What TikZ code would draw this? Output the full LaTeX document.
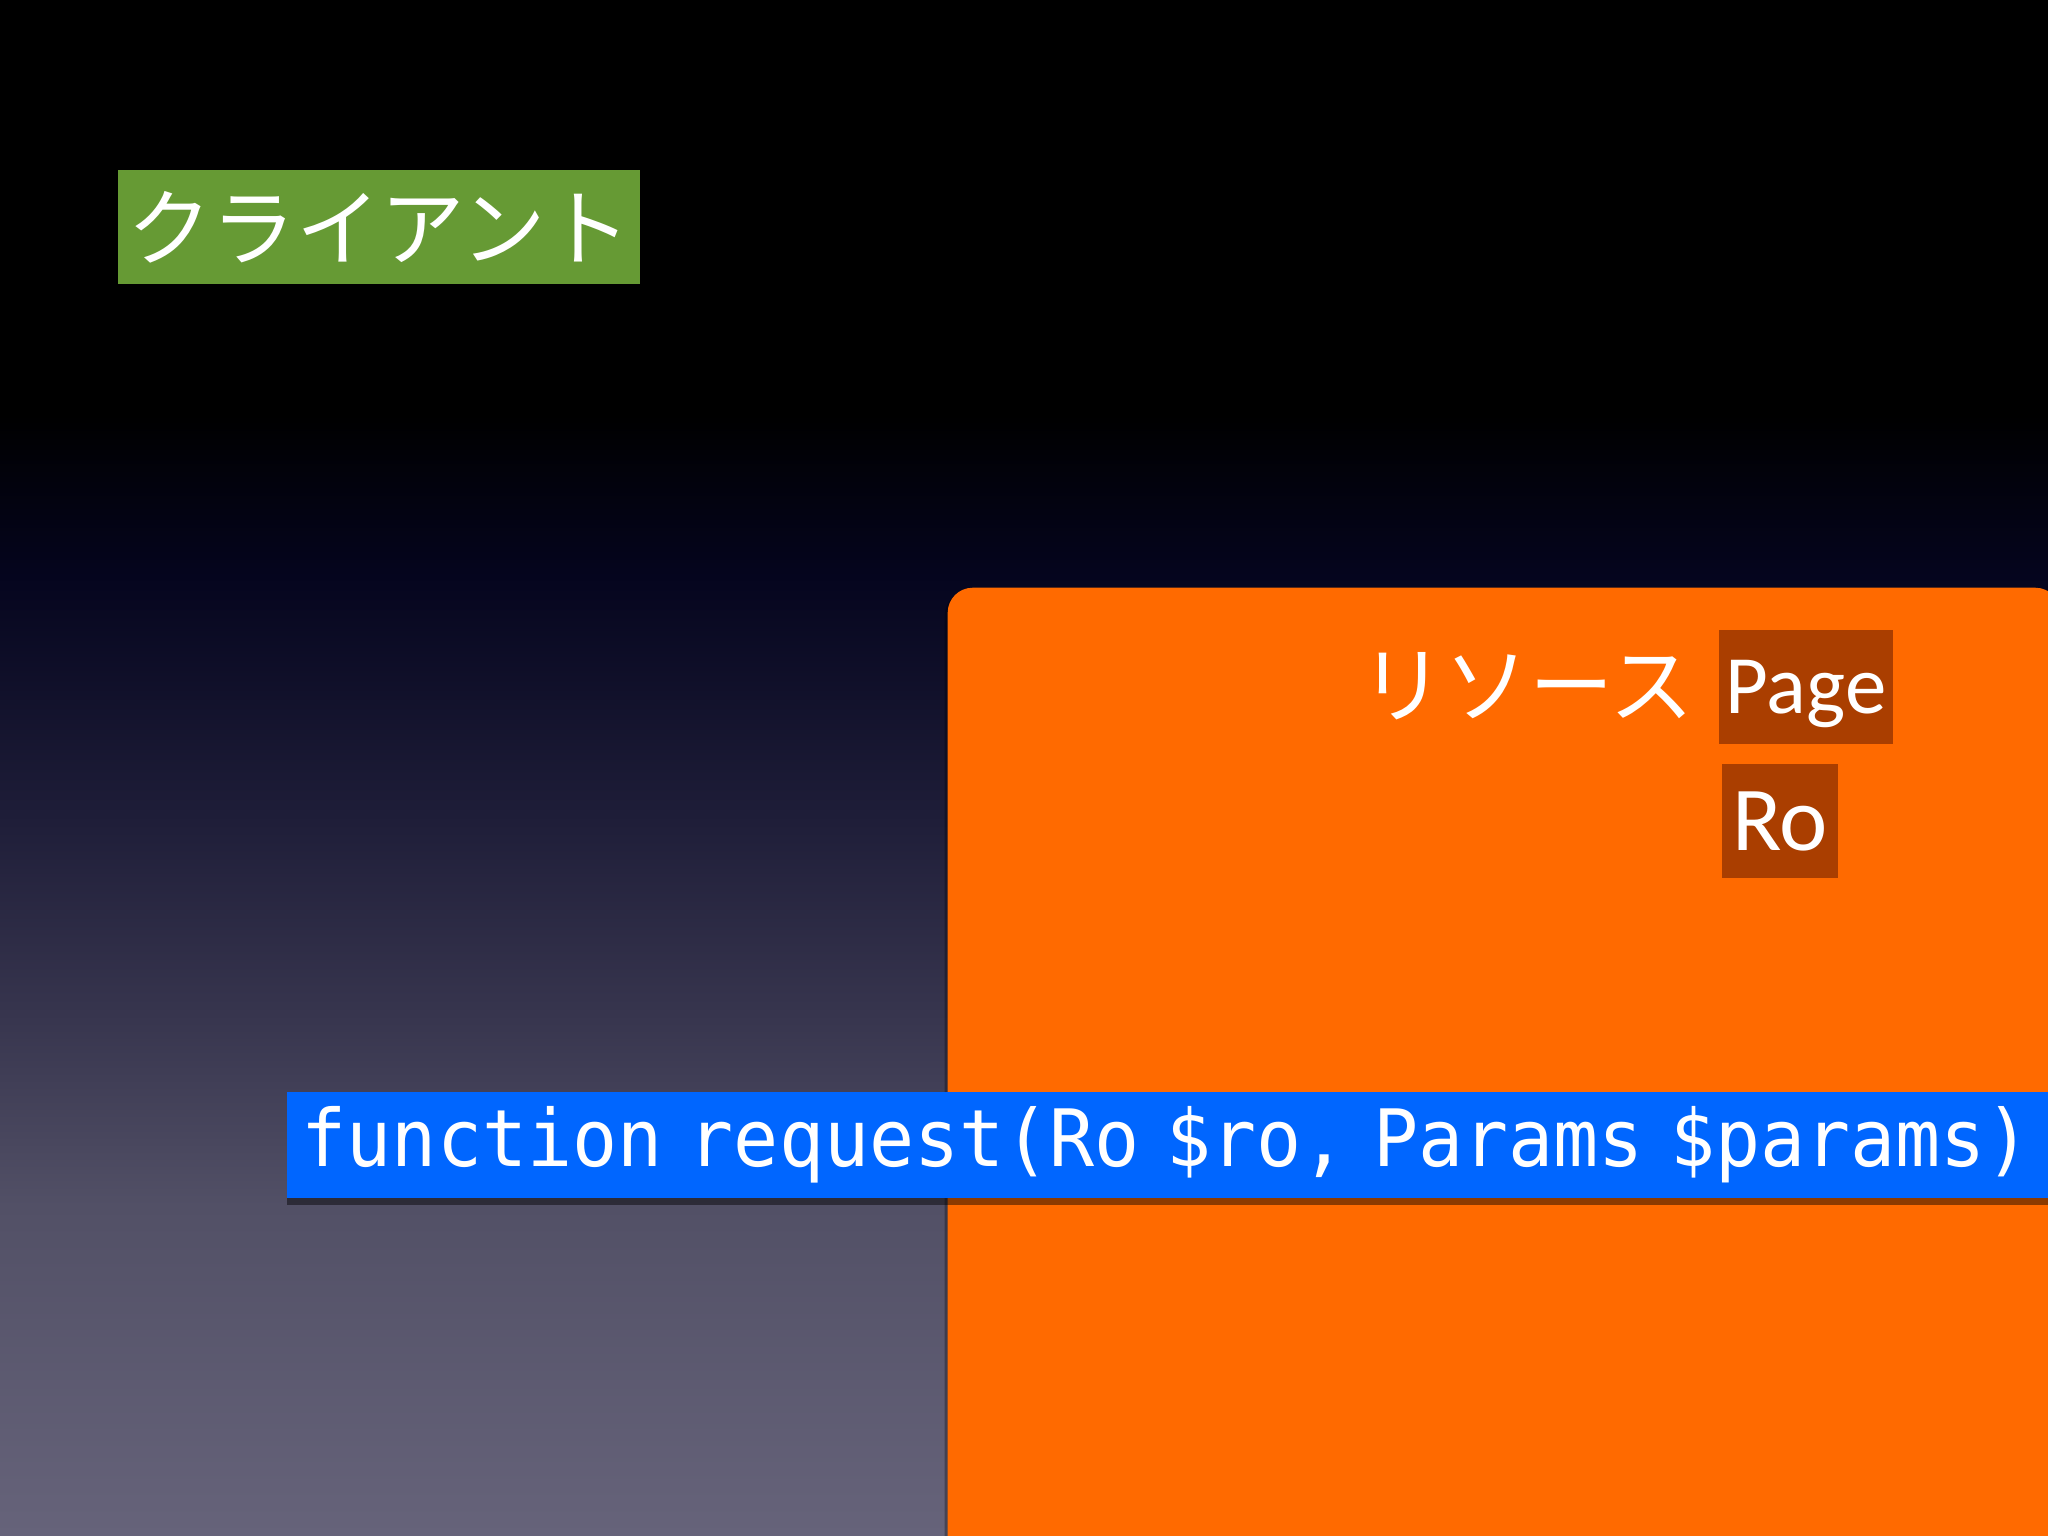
\documentclass[tikz,border=0pt]{standalone}
\usepackage{fontspec}
\setmainfont{Carlito}
\setmonofont{DejaVu Sans Mono}[FakeStretch=0.947]
\newfontfamily\jpfont{Noto Sans CJK JP}
\usetikzlibrary{shadows}

\definecolor{bgA}{RGB}{102,99,122}
\definecolor{bgB}{RGB}{82,80,102}
\definecolor{bgC}{RGB}{55,53,78}
\definecolor{bgD}{RGB}{30,29,56}
\definecolor{bgE}{RGB}{5,5,30}
\definecolor{clientgreen}{RGB}{102,154,52}
\definecolor{resorange}{RGB}{255,106,0}
\definecolor{tagbrown}{RGB}{170,62,0}
\definecolor{codeblue}{RGB}{0,102,255}

% slide background, path box is mapped onto 25bp..75bp
\pgfdeclareverticalshading{slidebg}{100bp}{color(0bp)=(bgA); color(25bp)=(bgA); color(35.75bp)=(bgB);
  color(42bp)=(bgC); color(48.5bp)=(bgD); color(56.25bp)=(bgE); color(61.5bp)=(black); color(100bp)=(black)}

\begin{document}
\begin{tikzpicture}[x=0.01cm,y=-0.01cm,inner sep=0mm,
  jp/.style={text=white,font=\jpfont\fontsize{24}{24}\selectfont},
  tag/.style={fill=tagbrown,text=white}]

\useasboundingbox (0,0) rectangle (2048,1536);
\clip (0,0) rectangle (2048,1536);
\shade[shading=slidebg] (0,0) rectangle (2048,1536);

\node(client) at (379,227) [jp,fill=clientgreen,minimum width=5.22cm,minimum height=1.14cm] {クライアント};

% resource box, runs off the slide
\node(res) at (1504,1100) [fill=resorange,rounded corners=0.25cm,minimum width=11.12cm,minimum height=10.24cm,
  drop shadow={shadow xshift=-0.03cm,shadow yshift=-0.03cm,fill=black,opacity=0.3}] {};
\node(reslabel) at (1527,686) [jp] {リソース};
\node(page) at (1806,687) [tag,minimum width=1.73cm,minimum height=1.13cm,text height=15.2pt,text depth=0pt,
  font=\fontsize{23.6}{24}\selectfont] {Page};
\node(ro) at (1780,821) [tag,minimum width=1.15cm,minimum height=1.13cm,text height=16.8pt,text depth=0pt,
  font=\fontsize{26}{26}\selectfont] {Ro};

\node(req) at (286,1145) [anchor=west,fill=codeblue,text=white,inner xsep=0.15cm,text width=17.7cm,align=left,
  minimum height=1.05cm,font=\ttfamily\fontsize{22.5}{23}\selectfont,
  drop shadow={shadow xshift=0cm,shadow yshift=-0.07cm,fill=black,opacity=0.45}] {function request(Ro \$ro, Params \$params)};

\end{tikzpicture}
\end{document}
